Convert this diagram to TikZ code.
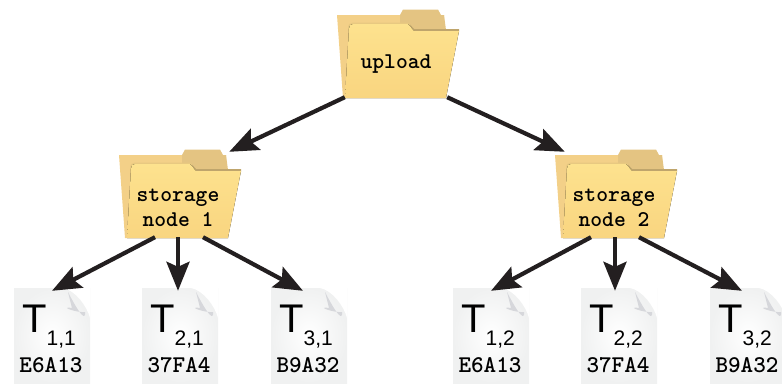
\documentclass[tikz,border=0pt]{standalone}
\usepackage{fontspec}
\setmainfont{Liberation Sans}
\usepackage{tikz}
\usetikzlibrary{arrows.meta}
\usetikzlibrary{positioning}
\definecolor{folderback}{HTML}{F3D088}
\definecolor{foldertab}{HTML}{E4C482}
\definecolor{folderedge}{HTML}{BFA56C}
\definecolor{folderline}{HTML}{E8C981}
\definecolor{foldertop}{HTML}{FDE28E}
\definecolor{folderbottom}{HTML}{F9D580}
\definecolor{docedge}{HTML}{F0F1F1}
\definecolor{docfold}{HTML}{D6D7DB}
\definecolor{arrowblack}{HTML}{231F20}

\tikzset{
    folder/.pic={
        \fill[folderback] (-59,-39.5) -- (48,-39.5) -- (50,43.5) -- (-53,43.5) -- cycle;
        \fill[foldertab] (4,-39.5) -- (7,-45) -- (42,-45) -- (45,-39.5) -- (48,-39.5) -- (50,-24.5) -- (4,-24.5) -- cycle;
        \fill[folderline] (-48,-26) .. controls (-48,-30) and (-46,-32) .. (-43,-32) -- (12,-32) -- (18,-25) -- (30,-25) -- (30,-23) -- (-48,-23) -- cycle;
        \fill[folderedge] (14,-30) -- (18,-25.5) -- (63,-25.5) -- (63,-23) -- (16,-23) -- cycle;
        \fill[top color=foldertop,bottom color=folderbottom]
            (-47,-26) .. controls (-47,-29) and (-45,-30.5) .. (-43,-30.5) -- (12,-30.5) -- (18,-23.5) -- (63,-23.5) -- (50,43.5) -- (-51,43.5) -- cycle;
    },
    foldernode/.style={minimum width=102pt,minimum height=85pt,inner sep=0pt},
    folderlabel/.style={font=\ttfamily\bfseries\fontsize{22.5}{25}\selectfont\addfontfeatures{FakeBold=3},align=center,inner sep=0pt},
    docnode/.style={minimum width=76pt,minimum height=95pt,inner sep=0pt,
        inner color=white,outer color=docedge,
        path picture={
            \fill[white] ([xshift=-27pt]path picture bounding box.north east)
                .. controls +(12pt,-2pt) and +(-3pt,12pt) .. ([yshift=-30pt]path picture bounding box.north east)
                -- (path picture bounding box.north east) -- cycle;
            \fill[docfold] ([xshift=-22pt,yshift=-4pt]path picture bounding box.north east)
                .. controls +(4pt,-8pt) and +(1pt,-14pt) .. ([xshift=-5pt,yshift=-24pt]path picture bounding box.north east)
                .. controls +(-8pt,-1pt) and +(-14pt,2pt) .. ([xshift=-18pt,yshift=-20pt]path picture bounding box.north east)
                -- cycle;
        }},
    doctitle/.style={anchor=base west,inner sep=0pt,font=\fontsize{40}{40}\selectfont},
    dochash/.style={inner sep=0pt,font=\ttfamily\bfseries\fontsize{24}{24}\selectfont\addfontfeatures{FakeBold=3,FakeStretch=1.1}},
    link/.style={line width=4.2pt,color=arrowblack,-{Stealth[length=29pt,width=23pt,inset=5pt]}}
}
\newcommand{\docsub}[1]{\raisebox{-13pt}{\fontsize{21}{21}\selectfont #1}}

\begin{document}
\begin{tikzpicture}[x=1pt,y=-1pt]
    \useasboundingbox (0,0) rectangle (782,383);

    % folders
    \pic at (396,54.5) {folder};
    \pic at (178,194.5) {folder};
    \pic at (614,194.5) {folder};
    \node[foldernode] (upload) at (396,54.5) {};
    \node[foldernode] (sn1) at (178,194.5) {};
    \node[foldernode] (sn2) at (614,194.5) {};
    \node[folderlabel] (uploadlabel) at ([yshift=-10pt]upload.center) {upload};
    \node[folderlabel] (sn1label) at ([yshift=-13pt]sn1.center) {storage\\node 1};
    \node[folderlabel] (sn2label) at ([yshift=-13pt]sn2.center) {storage\\node 2};

    % tokens of node 1
    \node[docnode] (t11) at (52,335.5) {};
    \node[docnode] (t21) at (180,335.5) {};
    \node[docnode] (t31) at (309,335.5) {};
    \node[doctitle] (t11title) at (22,332) {T\docsub{1,1}};
    \node[doctitle] (t21title) at (150,332) {T\docsub{2,1}};
    \node[doctitle] (t31title) at (279,332) {T\docsub{3,1}};
    \node[dochash] (t11hash) at (51,365) {E6A13};
    \node[dochash] (t21hash) at (179,365) {37FA4};
    \node[dochash] (t31hash) at (308,365) {B9A32};

    % tokens of node 2
    \node[docnode] (t12) at (491,335.5) {};
    \node[docnode] (t22) at (619,335.5) {};
    \node[docnode] (t32) at (748,335.5) {};
    \node[doctitle] (t12title) at (461,332) {T\docsub{1,2}};
    \node[doctitle] (t22title) at (589,332) {T\docsub{2,2}};
    \node[doctitle] (t32title) at (718,332) {T\docsub{3,2}};
    \node[dochash] (t12hash) at (490,365) {E6A13};
    \node[dochash] (t22hash) at (618,365) {37FA4};
    \node[dochash] (t32hash) at (747,365) {B9A32};

    % links
    \draw[link] (upload.south west) -- (sn1.north east);
    \draw[link] (upload.south east) -- ([xshift=2pt]sn2.north west);
    \draw[link] ([xshift=-23pt]sn1.south) -- ([yshift=-3pt]t11.north);
    \draw[link] (sn1.south) -- ([xshift=-2pt,yshift=-3pt]t21.north);
    \draw[link] ([xshift=25pt]sn1.south) -- ([xshift=-6pt,yshift=-3pt]t31.north);
    \draw[link] ([xshift=-23pt]sn2.south) -- ([yshift=-3pt]t12.north);
    \draw[link] ([xshift=1pt]sn2.south) -- ([xshift=-4pt,yshift=-3pt]t22.north);
    \draw[link] ([xshift=25pt]sn2.south) -- ([xshift=-6pt,yshift=-3pt]t32.north);
\end{tikzpicture}
\end{document}
